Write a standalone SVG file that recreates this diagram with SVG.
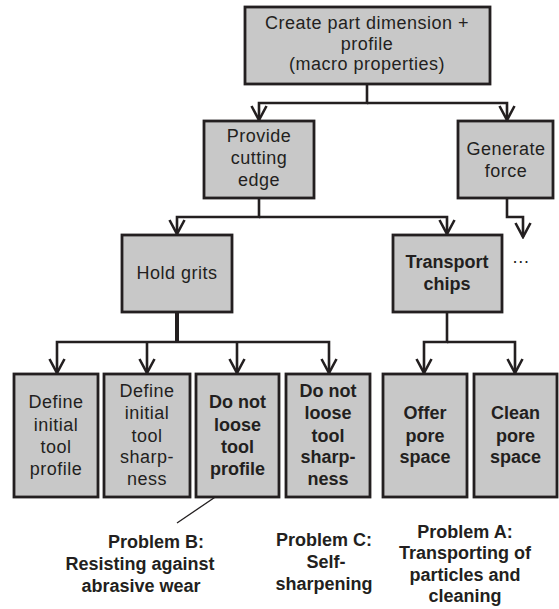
<svg xmlns="http://www.w3.org/2000/svg" width="559" height="609" viewBox="0 0 559 609">
<style>
.box{fill:#c8c8c8;stroke:#231f20;stroke-width:2.8}
.t{font-family:"Liberation Sans",Arial,sans-serif;font-size:18px;fill:#231f20;text-anchor:middle;letter-spacing:0.5px}
.b{font-weight:bold;letter-spacing:0}
.c{fill:none;stroke:#231f20;stroke-width:2.6;stroke-linejoin:miter}
.thick{stroke-width:4}
</style>
<defs>
<marker id="arr" viewBox="-1 -9 17 18" refX="14" refY="0" markerWidth="17" markerHeight="18" markerUnits="userSpaceOnUse" orient="auto">
<path d="M0,-7.5 L14,0 L0,7.5" fill="none" stroke="#231f20" stroke-width="2.6"/>
</marker>
</defs>
<rect width="559" height="609" fill="#fff"/>
<g id="connectors">
<path class="c" d="M367,84 V103 H259 V120" marker-end="url(#arr)"/>
<path class="c" d="M367,103 H507 V120" marker-end="url(#arr)"/>
<path class="c" d="M259,198 V217 H177 V234" marker-end="url(#arr)"/>
<path class="c" d="M259,217 H447 V234" marker-end="url(#arr)"/>
<path class="c" d="M507,198 V217 H523 V237" marker-end="url(#arr)"/>
<path class="c thick" d="M177,312 V342"/>
<path class="c" d="M177,342 H57 V373" marker-end="url(#arr)"/>
<path class="c" d="M147,342 V373" marker-end="url(#arr)"/>
<path class="c" d="M237,342 V373" marker-end="url(#arr)"/>
<path class="c" d="M177,342 H329 V373" marker-end="url(#arr)"/>
<path class="c" d="M447,312 V342 H424 V373" marker-end="url(#arr)"/>
<path class="c" d="M447,342 H515 V373" marker-end="url(#arr)"/>
<line x1="230" y1="487" x2="177" y2="523" stroke="#231f20" stroke-width="1.3"/>
<circle cx="231" cy="486" r="4.5" fill="#231f20"/>
</g>
<g id="n-top">
<rect class="box" x="245" y="7" width="245" height="77"/>
<text class="t" x="367" y="29">Create part dimension +</text>
<text class="t" x="367" y="50">profile</text>
<text class="t" x="367" y="70">(macro properties)</text>
</g>
<g id="n-provide">
<rect class="box" x="204" y="121" width="110" height="77"/>
<text class="t" x="259" y="142">Provide</text>
<text class="t" x="259" y="164">cutting</text>
<text class="t" x="259" y="186">edge</text>
</g>
<g id="n-force">
<rect class="box" x="458" y="121" width="95" height="77"/>
<text class="t" x="506" y="155">Generate</text>
<text class="t" x="506" y="177">force</text>
</g>
<g id="n-hold">
<rect class="box" x="122" y="235" width="110" height="77"/>
<text class="t" x="177" y="279">Hold grits</text>
</g>
<g id="n-transport">
<rect class="box" x="393" y="235" width="109" height="77"/>
<text class="t b" x="447" y="268">Transport</text>
<text class="t b" x="447" y="290">chips</text>
</g>
<text class="t" x="521" y="263">…</text>
<g id="n-b1">
<rect class="box" x="14" y="374" width="84" height="123"/>
<text class="t" x="56" y="408">Define</text>
<text class="t" x="56" y="431">initial</text>
<text class="t" x="56" y="453">tool</text>
<text class="t" x="56" y="475">profile</text>
</g>
<g id="n-b2">
<rect class="box" x="104" y="374" width="86" height="123"/>
<text class="t" x="147" y="397">Define</text>
<text class="t" x="147" y="419">initial</text>
<text class="t" x="147" y="442">tool</text>
<text class="t" x="147" y="463">sharp-</text>
<text class="t" x="147" y="485">ness</text>
</g>
<g id="n-b3">
<rect class="box" x="196" y="374" width="83" height="123"/>
<text class="t b" x="237.5" y="408">Do not</text>
<text class="t b" x="237.5" y="431">loose</text>
<text class="t b" x="237.5" y="453">tool</text>
<text class="t b" x="237.5" y="475">profile</text>
</g>
<g id="n-b4">
<rect class="box" x="286" y="374" width="84" height="123"/>
<text class="t b" x="328" y="397">Do not</text>
<text class="t b" x="328" y="419">loose</text>
<text class="t b" x="328" y="442">tool</text>
<text class="t b" x="328" y="463">sharp-</text>
<text class="t b" x="328" y="485">ness</text>
</g>
<g id="n-b5">
<rect class="box" x="383" y="374" width="84" height="123"/>
<text class="t b" x="425" y="419">Offer</text>
<text class="t b" x="425" y="442">pore</text>
<text class="t b" x="425" y="463">space</text>
</g>
<g id="n-b6">
<rect class="box" x="474" y="374" width="83" height="123"/>
<text class="t b" x="515.5" y="419">Clean</text>
<text class="t b" x="515.5" y="442">pore</text>
<text class="t b" x="515.5" y="463">space</text>
</g>
<g id="label-b">
<text class="t b" x="156" y="548">Problem B:</text>
<text class="t b" x="140" y="570">Resisting against</text>
<text class="t b" x="141" y="592">abrasive wear</text>
</g>
<g id="label-c">
<text class="t b" x="324" y="546">Problem C:</text>
<text class="t b" x="326" y="568">Self-</text>
<text class="t b" x="324" y="590">sharpening</text>
</g>
<g id="label-a">
<text class="t b" x="465" y="538">Problem A:</text>
<text class="t b" x="465" y="559">Transporting of</text>
<text class="t b" x="465" y="581">particles and</text>
<text class="t b" x="465" y="602">cleaning</text>
</g>
</svg>
